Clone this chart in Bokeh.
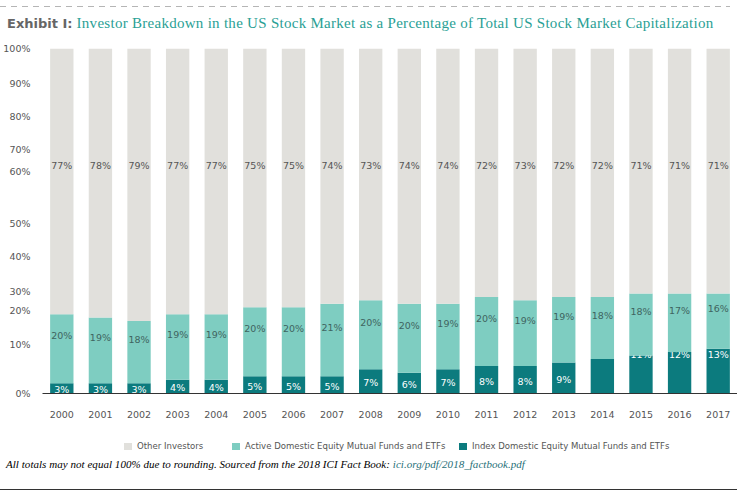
import numpy as np
from bokeh.plotting import figure
from bokeh.models import (ColumnDataSource, FactorRange, FixedTicker, Div)
from bokeh.layouts import column
from bokeh.embed import file_html
from bokeh.resources import INLINE
from bokeh.core.properties import value

years = [str(y) for y in range(2000, 2018)]
index_funds = [3, 3, 3, 4, 4, 5, 5, 5, 7, 6, 7, 8, 8, 9, 10, 11, 12, 13]
active_funds = [20, 19, 18, 19, 19, 20, 20, 21, 20, 20, 19, 20, 19, 19, 18, 18, 17, 16]
other_inv = [77, 78, 79, 77, 77, 75, 75, 74, 73, 74, 74, 72, 73, 72, 72, 71, 71, 71]
hidden_index_label_years = ["2014"]
series_names = ["Other Investors", "Active Domestic Equity Mutual Funds and ETFs",
                "Index Domestic Equity Mutual Funds and ETFs"]

# y tick labels as printed in the reference (label -> where it sits on the bar scale)
tick_labels = ["0%", "10%", "20%", "30%", "40%", "50%", "60%", "70%", "80%", "90%", "100%"]
tick_positions = [0, 14.3, 24.0, 29.5, 39.7, 49.4, 64.4, 70.7, 80.3, 90.0, 100]

C_OTHER = "#e1e0dc"
C_ACTIVE = "#7ecdc1"
C_INDEX = "#0c7b7e"
TEAL_TXT = "#2a9f95"

idx = np.array(index_funds, dtype=float)
act = np.array(active_funds, dtype=float)

src = ColumnDataSource(dict(
    year=years,
    i0=np.zeros(len(years)), i1=idx,
    a0=idx, a1=idx + act,
    o0=idx + act, o1=np.full(len(years), 100.0),
    i_lab=["" if y in hidden_index_label_years else f"{v}%" for y, v in zip(years, index_funds)],
    i_y=np.where(idx >= 11, 11.2, idx / 2 - 0.4),
    a_lab=[f"{v}%" for v in active_funds],
    a_y=idx + act / 2 + 3.7,
    o_lab=[f"{v}%" for v in other_inv],
    o_y=np.full(len(years), 66.0),
))

p = figure(x_range=FactorRange(*years, range_padding=0), y_range=(0, 100),
           width=737, height=401,
           min_border_left=42, min_border_right=0, min_border_top=16, min_border_bottom=40,
           output_backend="svg", toolbar_location=None, background_fill_color="white",
           border_fill_color="white", outline_line_color=None)

W = 0.605
LBL = dict(text_align="center", text_baseline="middle", text_font=value("DejaVu Sans"),
           text_font_size="9.5px")
p.vbar(x="year", bottom="i0", top="i1", width=W, color=C_INDEX, line_color=None, source=src)
p.text(x="year", y="i_y", text="i_lab", source=src, text_color="white", **LBL)
p.vbar(x="year", bottom="a0", top="a1", width=W, color=C_ACTIVE, line_color=None, source=src)
p.text(x="year", y="a_y", text="a_lab", source=src, text_color="#3f6460", **LBL)
p.vbar(x="year", bottom="o0", top="o1", width=W, color=C_OTHER, line_color=None, source=src)
p.text(x="year", y="o_y", text="o_lab", source=src, text_color="#555555", **LBL)

p.xgrid.grid_line_color = None
p.ygrid.grid_line_color = None

p.yaxis.ticker = FixedTicker(ticks=tick_positions)
p.yaxis.major_label_overrides = {pos: lab for pos, lab in zip(tick_positions, tick_labels)}
p.yaxis.axis_line_color = None
p.yaxis.major_tick_line_color = None
p.yaxis.minor_tick_line_color = None
p.yaxis.major_label_standoff = 6
p.yaxis.major_label_text_font = "DejaVu Sans"
p.yaxis.major_label_text_font_size = "9.5px"
p.yaxis.major_label_text_color = "#555555"

p.xaxis.axis_line_color = "#333333"
p.xaxis.major_tick_line_color = None
p.xaxis.minor_tick_line_color = None
p.xaxis.major_label_standoff = 11
p.xaxis.major_label_text_font = "DejaVu Sans"
p.xaxis.major_label_text_font_size = "9.5px"
p.xaxis.major_label_text_color = "#555555"

title = Div(text=(
    "<div style=\"width:737px;height:32px;position:relative\">"
    "<div style=\"position:absolute;left:0;top:6px;width:730px;height:1px;"
    "background:repeating-linear-gradient(to right,#b5b5b5 0px,#b5b5b5 6px,transparent 6px,transparent 11px)\"></div>"
    "<div style=\"position:absolute;left:7px;top:15px;line-height:17px;white-space:nowrap;"
    "font-family:'Liberation Serif';font-size:15px;letter-spacing:0.28px;color:" + TEAL_TXT + "\">"
    "<span style=\"font-family:'DejaVu Sans';font-weight:bold;font-size:13px;color:#666;letter-spacing:0\">"
    "Exhibit I:</span> Investor Breakdown in the US Stock Market as a Percentage of Total US Stock Market Capitalization"
    "</div></div>"), width=737, height=32, margin=(0, 0, 0, 0))

leg_lefts = [124, 232, 459]
leg_colors = [C_OTHER, C_ACTIVE, C_INDEX]
leg_html = "<div style=\"position:relative;width:737px;height:23px\">"
for name, col, left in zip(series_names, leg_colors, leg_lefts):
    leg_html += (
        f"<div style=\"position:absolute;left:{left}px;top:10px;width:8px;height:7px;background:{col}\"></div>"
        f"<div style=\"position:absolute;left:{left + 13}px;top:7px;line-height:11px;white-space:nowrap;"
        "font-family:'Liberation Sans Narrow','DejaVu Sans Condensed',sans-serif;font-size:9.5px;"
        f"color:#555\">{name}</div>")
leg_html += "</div>"
legend = Div(text=leg_html, width=737, height=23, margin=(0, 0, 0, 0))

foot = Div(text=(
    "<div style=\"position:relative;width:746px;height:38px\">"
    "<div style=\"position:absolute;left:6px;top:2px;line-height:13px;white-space:nowrap;letter-spacing:0.04px;"
    "font-family:'Liberation Serif';font-style:italic;font-size:11px;color:#000\">"
    "All totals may not equal 100% due to rounding. Sourced from the 2018 ICI Fact Book: "
    "<span style=\"color:#1f6f78\">ici.org/pdf/2018_factbook.pdf</span></div>"
    "<div style=\"position:absolute;left:0;top:33px;width:737px;height:0;border-top:1px solid #333\"></div>"
    "</div>"), width=737, height=38, margin=(0, 0, 0, 0))

layout = column(title, p, legend, foot, spacing=0)
open("out.html", "w").write(file_html(layout, INLINE))
